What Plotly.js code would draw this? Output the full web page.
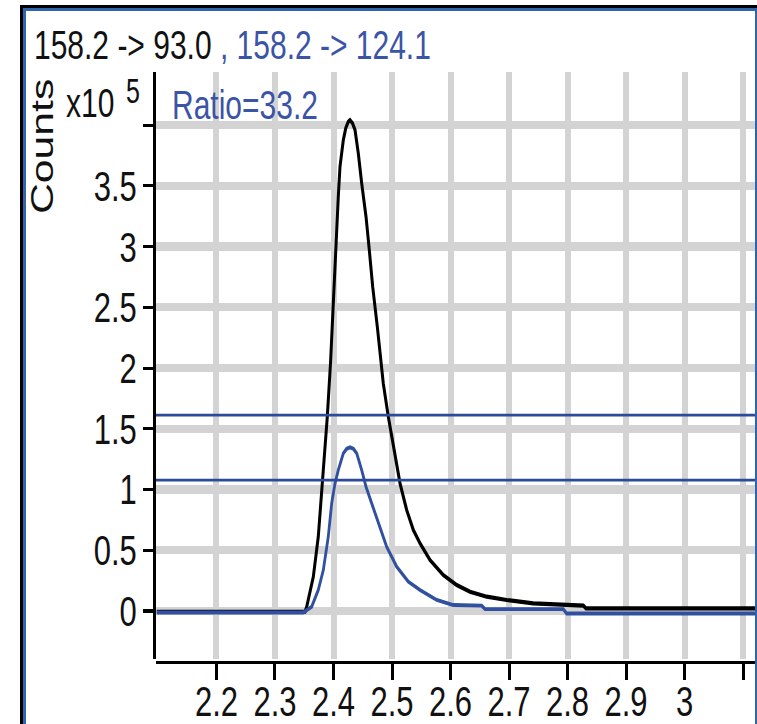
<!DOCTYPE html>
<html>
<head>
<meta charset="utf-8">
<script src="https://cdn.plot.ly/plotly-3.0.1.min.js"></script>
<style>
  html, body { margin: 0; padding: 0; background: #fff; overflow: hidden; width: 757px; height: 724px; }
  #wrap { position: absolute; left: 0; top: 0; width: 757px; height: 525px; transform-origin: 0 0; }
  .b { position: absolute; }
</style>
</head>
<body>
<div id="wrap"><div id="chart"></div></div>
<div class="b" style="left:20px;top:5px;width:737px;height:3px;background:#000"></div>
<div class="b" style="left:20px;top:5px;width:3px;height:719px;background:#000"></div>
<div class="b" style="left:23px;top:8px;width:734px;height:3px;background:#2e65ae"></div>
<div class="b" style="left:23px;top:8px;width:2.5px;height:716px;background:#2e65ae"></div>
<div class="b" style="left:754.5px;top:8px;width:2.5px;height:716px;background:#2e65ae"></div>
<script>
// ---- data (counts in units of 10^5, time in minutes) ----
const quantTime = [2.098, 2.3513, 2.3542, 2.3655, 2.374, 2.3798, 2.3855, 2.3894, 2.3949, 2.3997, 2.4038, 2.4082, 2.4111, 2.4168, 2.4210, 2.4253, 2.4282, 2.4325, 2.4368, 2.4424, 2.4482, 2.4556, 2.4612, 2.4670, 2.4749, 2.4807, 2.4851, 2.4937, 2.5022, 2.5137, 2.5251, 2.5364, 2.5479, 2.5650, 2.5877, 2.6106, 2.6333, 2.6619, 2.6961, 2.7415, 2.8270, 2.8316, 3.124];
const quantCounts = [-0.006, -0.006, 0.035, 0.282, 0.612, 0.996, 1.325, 1.599, 2.041, 2.587, 2.971, 3.410, 3.657, 3.877, 3.975, 4.027, 4.041, 4.015, 3.959, 3.767, 3.520, 3.245, 2.971, 2.669, 2.340, 2.093, 1.874, 1.599, 1.352, 1.051, 0.831, 0.667, 0.557, 0.420, 0.296, 0.214, 0.159, 0.118, 0.091, 0.063, 0.044, 0.022, 0.022];
const qualTime = [2.098, 2.3484, 2.3627, 2.374, 2.3826, 2.3911, 2.3969, 2.4026, 2.4082, 2.4168, 2.4225, 2.4282, 2.4340, 2.4397, 2.4482, 2.4556, 2.4653, 2.4766, 2.4909, 2.5080, 2.5279, 2.5479, 2.5764, 2.6048, 2.6533, 2.6590, 2.7928, 2.7986, 3.124];
const qualCounts = [-0.012, -0.012, 0.035, 0.173, 0.337, 0.612, 0.886, 1.051, 1.160, 1.298, 1.335, 1.347, 1.335, 1.298, 1.160, 1.023, 0.886, 0.722, 0.529, 0.365, 0.241, 0.173, 0.091, 0.049, 0.044, 0.016, 0.016, -0.021, -0.021];
const qualifierLimits = [1.078, 1.613];
const xTickVals = [2.2, 2.3, 2.4, 2.5, 2.6, 2.7, 2.8, 2.9, 3.0, 3.1];
const xTickText = ['2.2', '2.3', '2.4', '2.5', '2.6', '2.7', '2.8', '2.9', '3', ''];
const yTickVals = [0, 0.5, 1, 1.5, 2, 2.5, 3, 3.5, 4];
const yTickText = ['0', '0.5', '1', '1.5', '2', '2.5', '3', '3.5', ''];
const quantLabel = '158.2 -&gt; 93.0';
const qualLabel = ' , 158.2 -&gt; 124.1';
const ratioLabel = 'Ratio=33.2';

// ---- geometry ----
const K = 724 / 525;            // vertical stretch
const W = 757, H = 525;
const M = { l: 156, r: 0, t: 52, b: 45 };
const PW = W - M.l - M.r, PH = H - M.t - M.b;
const px = (x) => (x - M.l) / PW;
const py = (yFinal) => (H - M.b - yFinal / K) / PH;

const FONT = '"Liberation Sans", Arial, Helvetica, sans-serif';
const BLUE = '#3150a0';
const BLUE_TXT = '#3b54a6';

const traces = [
  { x: quantTime, y: quantCounts, type: 'scatter', mode: 'lines',
    line: { color: '#000000', width: 3 }, hoverinfo: 'skip' },
  { x: qualTime, y: qualCounts, type: 'scatter', mode: 'lines',
    line: { color: BLUE, width: 2.8 }, hoverinfo: 'skip' }
];

const shapes = qualifierLimits.map(v => ({
  type: 'line', xref: 'paper', yref: 'y', x0: 0, x1: 1, y0: v, y1: v,
  line: { color: '#2b4a99', width: 2 }, layer: 'above'
}));

const layout = {
  width: W, height: H,
  margin: M,
  paper_bgcolor: '#ffffff', plot_bgcolor: '#ffffff',
  showlegend: false, hovermode: false,
  font: { family: FONT, color: '#111111' },
  title: {
    text: quantLabel + '<span style="color:' + BLUE_TXT + '">' + qualLabel + '</span>',
    font: { family: FONT, size: 30, color: '#111111' },
    xref: 'container', yref: 'container',
    x: 34 / W, xanchor: 'left',
    y: 1 - (45 / K) / H, yanchor: 'middle'
  },
  xaxis: {
    range: [2.0966, 3.1239], domain: [0, 1],
    anchor: 'free', position: 0,
    tickmode: 'array', tickvals: xTickVals, ticktext: xTickText,
    ticks: 'outside', ticklen: 11.4, tickwidth: 3, tickcolor: '#000',
    ticklabelstandoff: -11,
    showline: true, linecolor: '#000', linewidth: 2.5,
    showgrid: true, gridcolor: '#d3d3d3', gridwidth: 6,
    zeroline: false,
    tickfont: { family: FONT, size: 31, color: '#111111' }
  },
  yaxis: {
    range: [-0.3955, 4.439], domain: [0.0049, 1],
    anchor: 'x',
    tickmode: 'array', tickvals: yTickVals, ticktext: yTickText,
    ticks: 'outside', ticklen: 10, tickwidth: 2.2, tickcolor: '#000',
    showline: true, linecolor: '#000', linewidth: 3,
    showgrid: true, gridcolor: '#d3d3d3', gridwidth: 6,
    zeroline: false,
    tickfont: { family: FONT, size: 31, color: '#111111' }
  },
  shapes: shapes,
  annotations: [
    { text: ratioLabel, xref: 'paper', yref: 'paper', x: px(170), y: py(104),
      xanchor: 'left', yanchor: 'middle', showarrow: false,
      font: { family: FONT, size: 30, color: BLUE_TXT } },
    { text: 'x10', xref: 'paper', yref: 'paper', x: px(116), y: py(103),
      xanchor: 'right', yanchor: 'middle', showarrow: false,
      font: { family: FONT, size: 30, color: '#111111' } },
    { text: '5', xref: 'paper', yref: 'paper', x: px(124), y: py(90.5),
      xanchor: 'left', yanchor: 'middle', showarrow: false,
      font: { family: FONT, size: 25, color: '#111111' } },
    { text: 'Counts', xref: 'paper', yref: 'paper', x: px(42), y: py(146.5),
      xanchor: 'center', yanchor: 'middle', textangle: -90, showarrow: false,
      font: { family: FONT, size: 31, color: '#111111' } }
  ]
};

Plotly.newPlot('chart', traces, layout, { staticPlot: true, displayModeBar: false, responsive: false })
  .then(() => { document.getElementById('wrap').style.transform = 'scale(1,' + K + ')'; });
</script>
</body>
</html>
